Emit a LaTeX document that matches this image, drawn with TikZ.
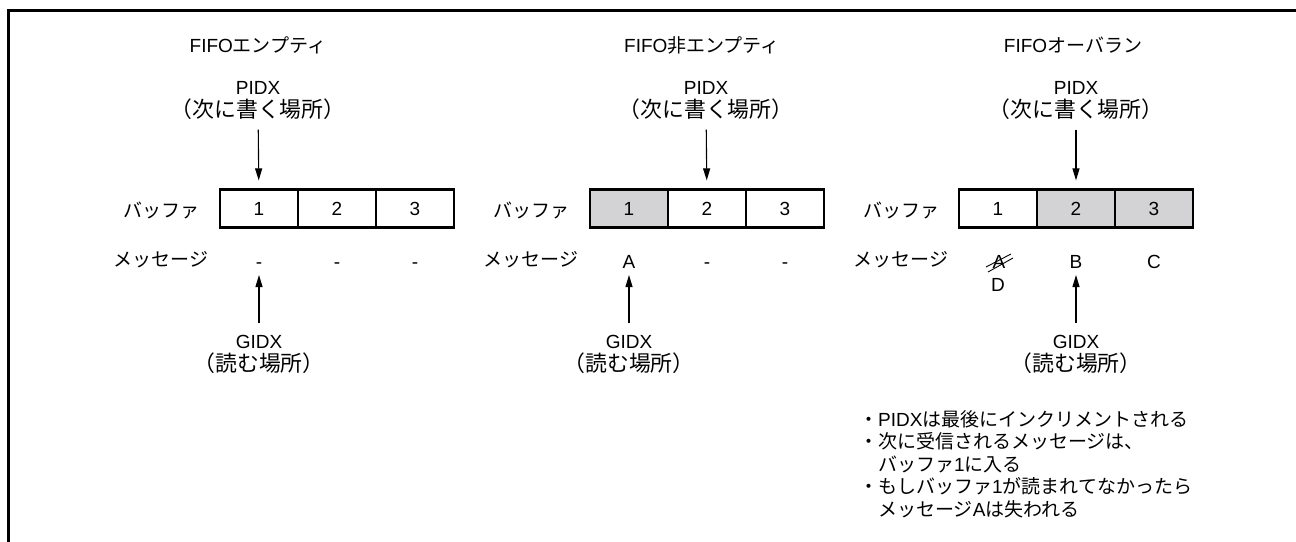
\documentclass[tikz,border=0pt]{standalone}
\usepackage{fontspec}
\setmainfont{Liberation Sans}
\newfontfamily\jp{Noto Sans CJK JP}
\newfontfamily\jpl[Scale=1.15]{Noto Sans CJK JP}
\usetikzlibrary{arrows.meta}
\definecolor{cellgray}{RGB}{211,211,213}

\begin{document}
\begin{tikzpicture}[x=1pt, y=-1pt, font=\fontsize{19}{22.5}\selectfont]
        \tikzstyle{cell}=[draw, line width=2.2pt, minimum width=78pt, minimum height=38pt, inner sep=0pt]
        \tikzstyle{usedcell}=[cell, fill=cellgray]
        \tikzstyle{msg}=[inner sep=0pt, text height=13.6pt, text depth=0pt]
        \tikzstyle{idx}=[align=center, inner sep=0pt]
        \tikzstyle{pointer}=[line width=1.1pt, -{Triangle[length=12pt, width=7pt]}]

        \clip (0,0) rectangle (1296,541);
        \draw[line width=2.6pt] (8.7,10.5) rectangle (1330,570);

        % FIFO empty
        \node (t1) at (258,45) {FIFO\jp エンプティ};
        \node[idx] (p1) at (258,100.5) {PIDX\\\jpl （次に書く場所）};
        \node (b1) at (161,210) {\jp バッファ};
        \node[cell] (c11) at (259,208.5) {1};
        \node[cell] (c12) at (337,208.5) {2};
        \node[cell] (c13) at (415,208.5) {3};
        \node (r1) at (161,260) {\jp メッセージ};
        \node[msg] (m11) at (259,262) {-};
        \node[msg] (m12) at (337,262) {-};
        \node[msg] (m13) at (415,262) {-};
        \node[idx] (g1) at (259,354.5) {GIDX\\\jpl （読む場所）};

        \draw[pointer, shorten <=10pt, shorten >=8pt] (p1) -- (c11);
        \draw[pointer, shorten <=12pt, shorten >=6pt] (g1) -- (m11);

        % FIFO not empty
        \node (t2) at (702,45) {FIFO\jp 非エンプティ};
        \node[idx] (p2) at (706,100.5) {PIDX\\\jpl （次に書く場所）};
        \node (b2) at (531,210) {\jp バッファ};
        \node[usedcell] (c21) at (629,208.5) {1};
        \node[cell] (c22) at (707,208.5) {2};
        \node[cell] (c23) at (785,208.5) {3};
        \node (r2) at (531,260) {\jp メッセージ};
        \node[msg] (m21) at (629,262) {A};
        \node[msg] (m22) at (707,262) {-};
        \node[msg] (m23) at (785,262) {-};
        \node[idx] (g2) at (629,354.5) {GIDX\\\jpl （読む場所）};

        \draw[pointer, shorten <=10pt, shorten >=8pt] (p2) -- (c22);
        \draw[pointer, shorten <=12pt, shorten >=6pt] (g2) -- (m21);

        % FIFO overrun
        \node (t3) at (1073,45) {FIFO\jp オーバラン};
        \node[idx] (p3) at (1076,100.5) {PIDX\\\jpl （次に書く場所）};
        \node (b3) at (901,210) {\jp バッファ};
        \node[cell] (c31) at (998,208.5) {1};
        \node[usedcell] (c32) at (1076,208.5) {2};
        \node[usedcell] (c33) at (1154,208.5) {3};
        \node (r3) at (901,260) {\jp メッセージ};
        \node[msg] (m31) at (999,262) {A};
        \node[msg] (m32) at (1076,262) {B};
        \node[msg] (m33) at (1154,262) {C};
        \node[msg] (d3) at (998,285) {D};
        \node[idx] (g3) at (1076,354.5) {GIDX\\\jpl （読む場所）};

        \draw[line width=0.9pt] ([shift={(-13,5)}]m31.center) -- ([shift={(12,-8)}]m31.center);
        \draw[line width=0.9pt] ([shift={(-11,10)}]m31.center) -- ([shift={(14,-4)}]m31.center);

        \draw[pointer, shorten <=10pt, shorten >=8pt] (p3) -- (c32);
        \draw[pointer, shorten <=12pt, shorten >=6pt] (g3) -- (m32);

        \node[anchor=north west, align=left, inner sep=0pt] (note) at (859,410) {%
            \jp ・\textrm{PIDX}は最後にインクリメントされる\\
            \jp ・次に受信されるメッセージは、\\
            \jp \phantom{・}バッファ\textrm{1}に入る\\
            \jp ・もしバッファ\textrm{1}が読まれてなかったら\\
            \jp \phantom{・}メッセージ\textrm{A}は失われる};
    \end{tikzpicture}
\end{document}
